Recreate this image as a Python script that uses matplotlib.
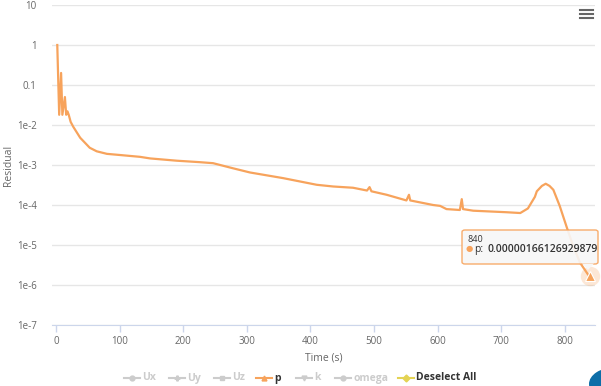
import matplotlib
matplotlib.use('Agg')
import matplotlib.pyplot as plt
from matplotlib.patches import FancyBboxPatch, Circle, Polygon
from matplotlib.lines import Line2D

# residual history of p (time in s)
time = [2, 5, 8, 10, 14, 16, 18, 20, 23, 27, 38, 53, 64, 80, 100, 132, 148,
        190, 225, 247, 278, 305, 357, 410, 436, 467, 489, 493, 496, 520, 551,
        555, 557, 593, 604, 614, 635, 638, 640, 656, 708, 730, 742, 753, 756,
        764, 770, 776, 782, 792, 803, 813, 824, 837, 840]
residual_p = [1.0, 0.018, 0.2, 0.018, 0.05, 0.018, 0.022, 0.018, 0.012,
              0.0091, 0.0048, 0.0027, 0.0022, 0.0019, 0.00178, 0.0016,
              0.00146, 0.00128, 0.00118, 0.00111, 0.00083, 0.00065, 0.00047,
              0.00032, 0.00029, 0.00027, 0.00023, 0.00028, 0.00022, 0.00018,
              0.00013, 0.00018, 0.00013, 0.0001, 0.000095, 0.000079, 0.000075,
              0.00014, 0.000079, 0.000072, 0.000066, 0.000063, 0.000082,
              0.00016, 0.00022, 0.0003, 0.00034, 0.0003, 0.00024, 0.000095,
              2.8e-5, 9.6e-6, 3.6e-6, 1.78e-6, 1.66126929879e-6]

x_ticks = [0, 100, 200, 300, 400, 500, 600, 700, 800]
y_ticks = [1e1, 1, 1e-1, 1e-2, 1e-3, 1e-4, 1e-5, 1e-6, 1e-7]
y_tick_labels = ['10', '1', '0.1', '1e-2', '1e-3', '1e-4', '1e-5', '1e-6', '1e-7']
legend_names = ['Ux', 'Uy', 'Uz', 'p', 'k', 'omega', 'Deselect All']
legend_markers = ['o', 'P', 's', '^', 'v', 'o', 'D']
legend_active = [False, False, False, True, False, False, True]

ORANGE = '#f7a35c'
W, H = 601, 386
plt.rcParams['font.family'] = ['Open Sans', 'DejaVu Sans']


def px(x, y):
    return x / W, 1 - y / H


fig = plt.figure(figsize=(W / 100, H / 100), dpi=100)
ax = fig.add_axes([52 / W, 1 - 325 / H, (595 - 52) / W, (325 - 5) / H])

ax.plot(time, residual_p, color=ORANGE, lw=1.6, solid_joinstyle='round')
ax.set_yscale('log')
ax.set_ylim(1e-7, 10)
ax.set_xlim(-6.3, 847.5)

ax.set_yticks(y_ticks)
ax.set_yticklabels(y_tick_labels)
ax.yaxis.set_minor_locator(matplotlib.ticker.NullLocator())
ax.set_xticks(x_ticks)
ax.tick_params(axis='y', length=0, pad=11, labelsize=7, labelcolor='#666666')
ax.tick_params(axis='x', length=5, width=1, color='#ccd6eb', pad=3,
               labelsize=7, labelcolor='#666666')
ax.grid(axis='y', color='#e6e6e6', lw=1)
for s in ['top', 'right', 'left']:
    ax.spines[s].set_visible(False)
ax.spines['bottom'].set_color('#ccd6eb')
ax.set_xlabel('Time (s)', fontsize=7.5, color='#666666', labelpad=4)
fig.text(*px(8, 165), 'Residual', fontsize=7.5, color='#666666',
         rotation=90, ha='center', va='center')

# hover marker on last point
ax.plot(time[-1], residual_p[-1], 'o', ms=14, color=ORANGE, alpha=0.25,
        mec='none', clip_on=False)
ax.plot(time[-1], residual_p[-1], '^', ms=7, color=ORANGE, mec='white',
        mew=0.8, clip_on=False)

# tooltip
tip = FancyBboxPatch(px(462, 264), 136 / W, 34 / H,
                     boxstyle='round,pad=0,rounding_size=0.005',
                     transform=fig.transFigure, fc='#f7f7f7', ec=ORANGE,
                     lw=1, alpha=0.9)
fig.patches.append(tip)
fig.patches.append(Polygon([px(582, 263.5), px(594, 263.5), px(588, 270)],
                           closed=True, transform=fig.transFigure,
                           fc='#f7f7f7', ec='none'))
fig.text(*px(467, 239), '840', fontsize=6.5, color='#333333', va='center')
fig.text(*px(466, 249.5), '●', fontsize=6, color=ORANGE, va='center')
fig.text(*px(474, 249.5), 'p:', fontsize=7.5, color='#333333', va='center')
fig.text(*px(488, 249.5), '0.00000166126929879', fontsize=7.5,
         color='#333333', va='center', fontweight='semibold')

# hamburger menu
for yy in [9.5, 13.5, 17.5]:
    fig.lines.append(Line2D([px(580, yy)[0], px(593, yy)[0]],
                            [px(580, yy)[1]] * 2, transform=fig.transFigure,
                            color='#666666', lw=1.5))

# legend row
legend_x = [132, 177, 222, 264, 304, 343, 406]
for name, mk, active, lx in zip(legend_names, legend_markers, legend_active,
                                legend_x):
    if name == 'Deselect All':
        c = '#e4d354'
    elif active:
        c = ORANGE
    else:
        c = '#cccccc'
    tc = '#333333' if active else '#cccccc'
    x0, y0 = px(lx - 8, 378)
    x1, _ = px(lx + 8, 378)
    fig.lines.append(Line2D([x0, x1], [y0, y0], transform=fig.transFigure,
                            color=c, lw=1.5))
    fig.lines.append(Line2D([(x0 + x1) / 2], [y0], transform=fig.transFigure,
                            marker=mk, ms=3.5, color=c, mec=c))
    fig.text(*px(lx + 10, 378), name, fontsize=7.5, fontweight='bold',
             color=tc, va='center')

# round button partly visible in the corner
fig.patches.append(Circle(px(615, 384), 26 / W, transform=fig.transFigure,
                          fc='#0d6ea8', ec='none'))

fig.savefig('out.png', dpi=100)
